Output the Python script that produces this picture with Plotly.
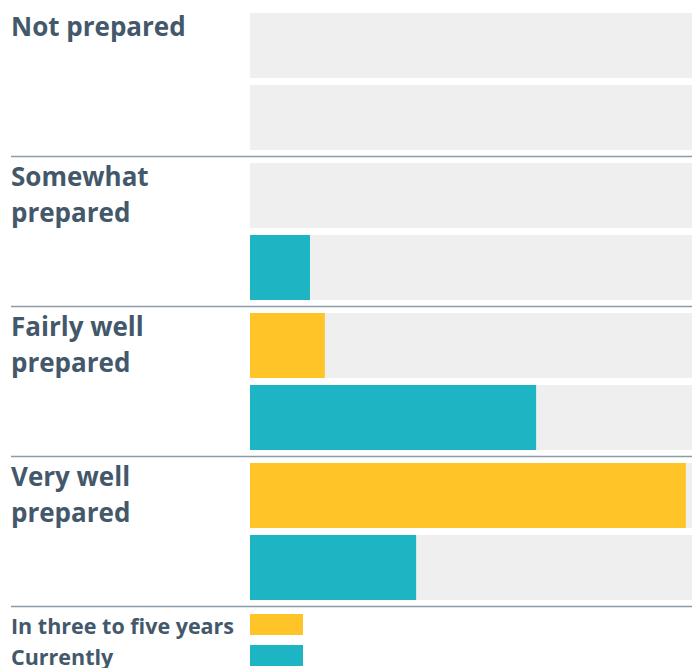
import plotly.graph_objects as go

categories = ["Not prepared", "Somewhat<br>prepared", "Fairly well<br>prepared", "Very well<br>prepared"]
future_vals = [0, 0, 14.6, 85.0]      # In three to five years
current_vals = [0, 11.7, 55.8, 32.4]  # Currently
track_max = 86.2
series_names = ["In three to five years", "Currently"]

YELLOW = "#fec428"
TEAL = "#1db5c3"
TRACK = "#eeefee"
TEXT = "#43586a"
LINE = "#8c9ba7"
FONT = "Open Sans"

W, H = 692, 668
idx = list(range(len(categories)))

bar_w = 65 / 150
off_future = -68.5 / 150
off_current = 3.5 / 150

fig = go.Figure()
for off in (off_future, off_current):
    fig.add_trace(go.Bar(y=idx, x=[track_max] * len(idx), orientation="h",
                         marker=dict(color=TRACK, line=dict(width=0)),
                         width=bar_w, offset=off, showlegend=False, hoverinfo="skip"))
fig.add_trace(go.Bar(y=idx, x=future_vals, orientation="h", name=series_names[0],
                     marker=dict(color=YELLOW, line=dict(width=0)),
                     width=bar_w, offset=off_future, showlegend=False))
fig.add_trace(go.Bar(y=idx, x=current_vals, orientation="h", name=series_names[1],
                     marker=dict(color=TEAL, line=dict(width=0)),
                     width=bar_w, offset=off_current, showlegend=False))

shapes = []
for i in idx:
    shapes.append(dict(type="line", xref="paper", yref="y", x0=11 / W, x1=1,
                       y0=i + 0.5, y1=i + 0.5, line=dict(color=LINE, width=1.5)))

annotations = []
for i, c in enumerate(categories):
    for k, part in enumerate(c.split("<br>")):
        annotations.append(dict(xref="paper", yref="y", x=11 / W, y=i - 68.5 / 150,
                                xanchor="left", yanchor="top", align="left", showarrow=False,
                                text=f"<b>{part}</b>", yshift=6 - k * 36, xshift=-1,
                                borderpad=0,
                                font=dict(family=FONT, size=26, color=TEXT)))

# legend (custom)
legend_rows = [(614, 635, YELLOW), (645, 666, TEAL)]
for (t, b, col), name in zip(legend_rows, series_names):
    shapes.append(dict(type="rect", xref="paper", yref="paper",
                       x0=250 / W, x1=303 / W, y0=1 - b / H, y1=1 - t / H,
                       fillcolor=col, line=dict(width=0)))
    annotations.append(dict(xref="paper", yref="paper", x=11 / W, y=1 - (t + b) / 2 / H,
                            xanchor="left", yanchor="middle", showarrow=False,
                            text=f"<b>{name}</b>", borderpad=0, xshift=-1, yshift=-1,
                            font=dict(family=FONT, size=21.5, color=TEXT)))

v_top = (0 - 81.5) / 150
v_bot = (H - 81.5) / 150

fig.update_layout(
    width=W, height=H, margin=dict(l=0, r=0, t=0, b=0),
    paper_bgcolor="white", plot_bgcolor="white",
    barmode="overlay",
    xaxis=dict(domain=[250 / W, 1], range=[0, track_max], visible=False, fixedrange=True),
    yaxis=dict(domain=[0, 1], range=[v_bot, v_top], visible=False, fixedrange=True),
    shapes=shapes, annotations=annotations, showlegend=False,
)

fig.write_html("out.html", config={"displayModeBar": False})
